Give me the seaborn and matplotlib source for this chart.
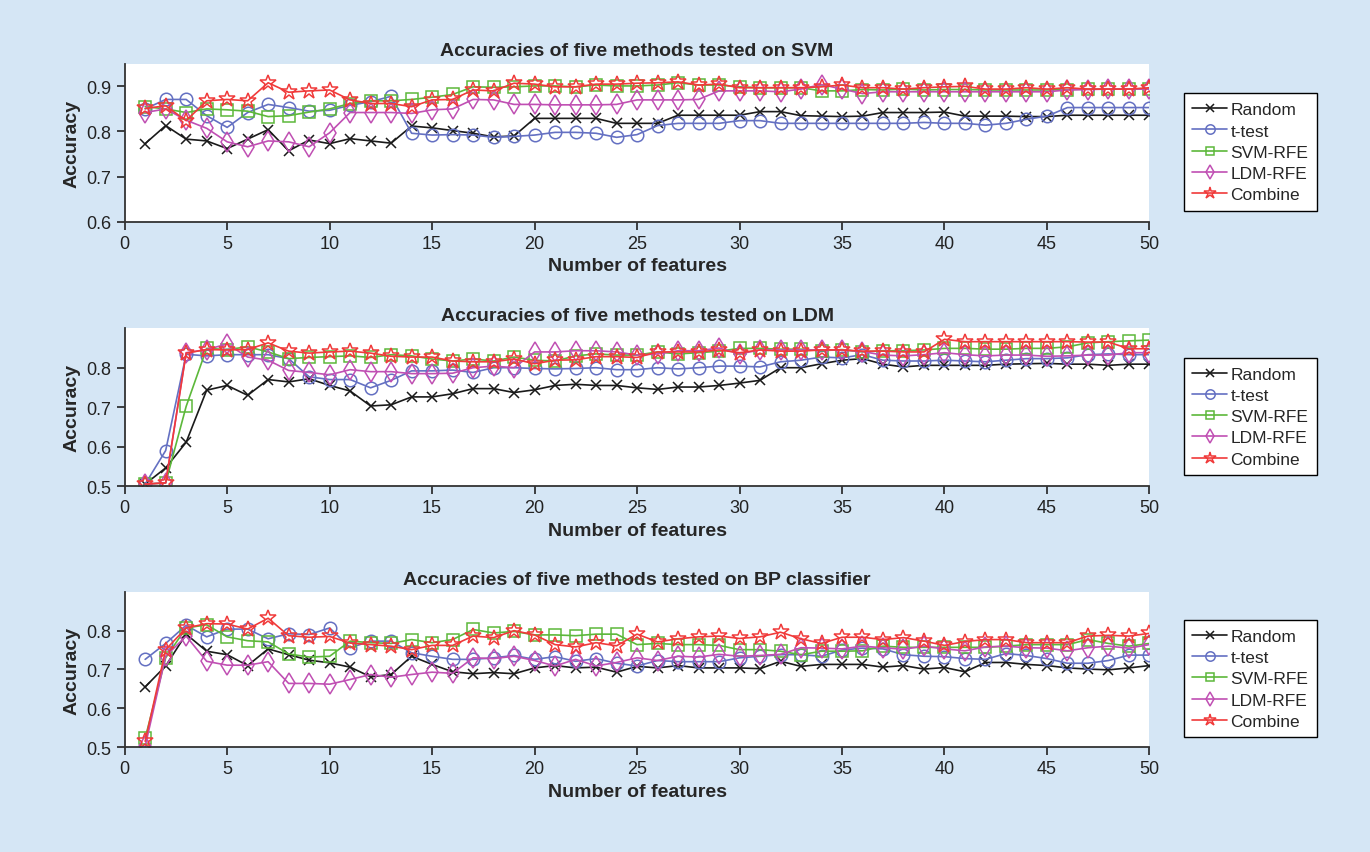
import matplotlib
matplotlib.use("Agg")
import matplotlib.pyplot as plt
import seaborn as sns

# feature counts on the x axis
features = list(range(1, 51))
methods = ["Random", "t-test", "SVM-RFE", "LDM-RFE", "Combine"]

# --- tested on SVM ---
rand1 = [0.773, 0.813, 0.783, 0.779, 0.762, 0.783, 0.804, 0.757, 0.781, 0.773,
         0.784, 0.779, 0.774, 0.812, 0.808, 0.802, 0.796, 0.788, 0.790, 0.829,
         0.829, 0.829, 0.829, 0.818, 0.818, 0.818, 0.836, 0.836, 0.836, 0.836,
         0.844, 0.844, 0.835, 0.834, 0.833, 0.834, 0.842, 0.842, 0.842, 0.843,
         0.834, 0.834, 0.834, 0.833, 0.833, 0.836, 0.836, 0.836, 0.836, 0.836]
ttest1 = [0.850, 0.871, 0.871, 0.835, 0.809, 0.842, 0.860, 0.853, 0.845, 0.847,
          0.858, 0.866, 0.878, 0.796, 0.792, 0.793, 0.792, 0.787, 0.789, 0.792,
          0.798, 0.798, 0.796, 0.787, 0.793, 0.813, 0.818, 0.818, 0.818, 0.824,
          0.824, 0.818, 0.818, 0.818, 0.818, 0.818, 0.818, 0.818, 0.820, 0.818,
          0.818, 0.814, 0.818, 0.827, 0.834, 0.853, 0.853, 0.853, 0.853, 0.853]
svm1 = [0.855, 0.850, 0.842, 0.850, 0.848, 0.845, 0.833, 0.835, 0.843, 0.850,
        0.862, 0.868, 0.868, 0.871, 0.876, 0.882, 0.899, 0.898, 0.899, 0.901,
        0.901, 0.899, 0.903, 0.901, 0.901, 0.903, 0.908, 0.903, 0.903, 0.899,
        0.897, 0.897, 0.897, 0.890, 0.890, 0.893, 0.892, 0.894, 0.892, 0.893,
        0.893, 0.892, 0.892, 0.892, 0.892, 0.893, 0.894, 0.894, 0.894, 0.894]
ldm1 = [0.842, 0.850, 0.825, 0.807, 0.777, 0.766, 0.779, 0.777, 0.766, 0.797,
        0.842, 0.842, 0.842, 0.840, 0.848, 0.850, 0.871, 0.870, 0.860, 0.860,
        0.859, 0.859, 0.859, 0.860, 0.870, 0.870, 0.870, 0.871, 0.890, 0.890,
        0.890, 0.888, 0.894, 0.904, 0.894, 0.884, 0.888, 0.888, 0.888, 0.888,
        0.888, 0.888, 0.888, 0.888, 0.888, 0.892, 0.893, 0.894, 0.894, 0.894]
comb1 = [0.851, 0.857, 0.824, 0.868, 0.871, 0.868, 0.908, 0.887, 0.890, 0.892,
         0.870, 0.862, 0.862, 0.855, 0.870, 0.871, 0.892, 0.890, 0.907, 0.905,
         0.899, 0.899, 0.905, 0.905, 0.907, 0.908, 0.910, 0.903, 0.905, 0.897,
         0.897, 0.897, 0.897, 0.899, 0.903, 0.897, 0.897, 0.894, 0.897, 0.899,
         0.900, 0.894, 0.894, 0.897, 0.894, 0.897, 0.894, 0.894, 0.894, 0.897]

# --- tested on LDM ---
rand2 = [0.505, 0.546, 0.611, 0.743, 0.755, 0.730, 0.770, 0.764, 0.772, 0.755,
         0.741, 0.703, 0.706, 0.726, 0.726, 0.734, 0.747, 0.747, 0.737, 0.744,
         0.755, 0.758, 0.755, 0.755, 0.749, 0.745, 0.751, 0.751, 0.755, 0.761,
         0.768, 0.800, 0.800, 0.810, 0.819, 0.823, 0.809, 0.802, 0.806, 0.806,
         0.806, 0.806, 0.809, 0.810, 0.811, 0.809, 0.809, 0.806, 0.809, 0.809]
ttest2 = [0.505, 0.590, 0.834, 0.830, 0.833, 0.833, 0.833, 0.823, 0.777, 0.770,
          0.770, 0.749, 0.768, 0.792, 0.792, 0.794, 0.788, 0.800, 0.800, 0.798,
          0.797, 0.798, 0.800, 0.795, 0.795, 0.800, 0.797, 0.800, 0.804, 0.804,
          0.802, 0.815, 0.819, 0.827, 0.825, 0.833, 0.819, 0.817, 0.817, 0.819,
          0.817, 0.815, 0.819, 0.823, 0.823, 0.825, 0.833, 0.835, 0.833, 0.833]
svm2 = [0.505, 0.508, 0.702, 0.849, 0.846, 0.853, 0.840, 0.823, 0.826, 0.828,
        0.830, 0.826, 0.833, 0.830, 0.822, 0.817, 0.822, 0.817, 0.827, 0.819,
        0.817, 0.830, 0.835, 0.832, 0.832, 0.840, 0.835, 0.838, 0.842, 0.849,
        0.849, 0.847, 0.847, 0.843, 0.846, 0.840, 0.843, 0.843, 0.845, 0.849,
        0.849, 0.847, 0.847, 0.849, 0.849, 0.853, 0.863, 0.866, 0.868, 0.870]
ldm2 = [0.505, 0.508, 0.838, 0.846, 0.860, 0.827, 0.819, 0.793, 0.788, 0.782,
        0.795, 0.790, 0.790, 0.785, 0.785, 0.786, 0.800, 0.804, 0.800, 0.840,
        0.840, 0.843, 0.843, 0.840, 0.832, 0.835, 0.843, 0.843, 0.850, 0.835,
        0.845, 0.845, 0.845, 0.845, 0.845, 0.841, 0.832, 0.830, 0.833, 0.838,
        0.833, 0.830, 0.832, 0.832, 0.829, 0.830, 0.832, 0.832, 0.838, 0.838]
comb2 = [0.505, 0.508, 0.837, 0.846, 0.845, 0.846, 0.863, 0.842, 0.837, 0.840,
         0.842, 0.837, 0.829, 0.827, 0.827, 0.817, 0.815, 0.815, 0.822, 0.810,
         0.819, 0.820, 0.828, 0.828, 0.826, 0.840, 0.840, 0.840, 0.845, 0.838,
         0.845, 0.842, 0.842, 0.845, 0.845, 0.842, 0.842, 0.840, 0.840, 0.872,
         0.866, 0.866, 0.866, 0.866, 0.866, 0.866, 0.865, 0.865, 0.848, 0.848]

# --- tested on BP classifier ---
rand3 = [0.655, 0.709, 0.791, 0.747, 0.738, 0.710, 0.753, 0.738, 0.724, 0.717,
         0.706, 0.681, 0.687, 0.734, 0.713, 0.694, 0.689, 0.692, 0.689, 0.704,
         0.710, 0.704, 0.706, 0.693, 0.708, 0.704, 0.710, 0.704, 0.704, 0.704,
         0.702, 0.721, 0.708, 0.713, 0.713, 0.713, 0.706, 0.710, 0.701, 0.705,
         0.694, 0.718, 0.718, 0.713, 0.710, 0.704, 0.701, 0.699, 0.704, 0.710]
ttest3 = [0.726, 0.767, 0.814, 0.784, 0.804, 0.804, 0.779, 0.792, 0.790, 0.807,
          0.756, 0.773, 0.773, 0.743, 0.734, 0.726, 0.726, 0.730, 0.736, 0.726,
          0.733, 0.721, 0.728, 0.716, 0.709, 0.723, 0.720, 0.720, 0.720, 0.730,
          0.734, 0.738, 0.738, 0.734, 0.750, 0.755, 0.753, 0.738, 0.734, 0.733,
          0.728, 0.726, 0.741, 0.736, 0.728, 0.716, 0.716, 0.723, 0.737, 0.737]
svm3 = [0.523, 0.730, 0.807, 0.815, 0.784, 0.774, 0.771, 0.740, 0.732, 0.734,
        0.773, 0.769, 0.767, 0.777, 0.769, 0.777, 0.803, 0.794, 0.798, 0.789,
        0.789, 0.787, 0.791, 0.791, 0.764, 0.767, 0.764, 0.764, 0.762, 0.751,
        0.751, 0.747, 0.738, 0.747, 0.747, 0.748, 0.760, 0.757, 0.757, 0.757,
        0.757, 0.757, 0.760, 0.764, 0.764, 0.764, 0.777, 0.767, 0.760, 0.767]
ldm3 = [0.502, 0.734, 0.786, 0.721, 0.711, 0.711, 0.720, 0.664, 0.664, 0.662,
        0.674, 0.687, 0.680, 0.687, 0.693, 0.690, 0.730, 0.728, 0.734, 0.723,
        0.709, 0.726, 0.709, 0.718, 0.730, 0.723, 0.734, 0.732, 0.739, 0.734,
        0.736, 0.739, 0.756, 0.755, 0.753, 0.760, 0.756, 0.752, 0.760, 0.753,
        0.748, 0.758, 0.760, 0.756, 0.755, 0.748, 0.756, 0.760, 0.755, 0.764]
comb3 = [0.515, 0.751, 0.807, 0.818, 0.817, 0.804, 0.832, 0.787, 0.783, 0.785,
         0.768, 0.764, 0.760, 0.751, 0.762, 0.762, 0.786, 0.782, 0.800, 0.789,
         0.764, 0.758, 0.769, 0.761, 0.791, 0.771, 0.779, 0.784, 0.786, 0.780,
         0.784, 0.796, 0.779, 0.767, 0.783, 0.783, 0.777, 0.782, 0.773, 0.762,
         0.772, 0.777, 0.777, 0.769, 0.769, 0.769, 0.786, 0.788, 0.786, 0.793]

titles = ["Accuracies of five methods tested on SVM",
          "Accuracies of five methods tested on LDM",
          "Accuracies of five methods tested on BP classifier"]
panels = [[rand1, ttest1, svm1, ldm1, comb1],
          [rand2, ttest2, svm2, ldm2, comb2],
          [rand3, ttest3, svm3, ldm3, comb3]]
ylims = [(0.6, 0.95), (0.5, 0.9), (0.5, 0.9)]
yticks = [[0.6, 0.7, 0.8, 0.9], [0.5, 0.6, 0.7, 0.8], [0.5, 0.6, 0.7, 0.8]]

colors = ["#1a1a1a", "#6470c2", "#5cb83a", "#c04fb3", "#f03a3a"]
markers = ["x", "o", "s", "d", "*"]
msizes = [7, 9, 8.5, 10, 12]

sns.set_style("ticks")
plt.rcParams["font.family"] = ["Liberation Sans", "DejaVu Sans"]

fig = plt.figure(figsize=(13.7, 8.53), dpi=100)
fig.patch.set_facecolor("#d5e6f5")

# axes rectangles (left, bottom, width, height) in figure fraction
rects = [(0.091, 0.739, 0.748, 0.185),
         (0.091, 0.429, 0.748, 0.185),
         (0.091, 0.123, 0.748, 0.182)]

for rect, title, series, ylim, yt in zip(rects, titles, panels, ylims, yticks):
    ax = fig.add_axes(rect)
    ax.set_facecolor("white")
    for name, vals, c, m, ms in zip(methods, series, colors, markers, msizes):
        sns.lineplot(x=features, y=vals, ax=ax, color=c, marker=m,
                     markersize=ms, markerfacecolor="none",
                     markeredgecolor=c, markeredgewidth=1.1,
                     linewidth=1.2, label=name)
    ax.set_xlim(0, 50)
    ax.set_ylim(*ylim)
    ax.set_xticks(range(0, 51, 5))
    ax.set_yticks(yt)
    ax.tick_params(direction="out", length=6, width=1.2, labelsize=13,
                   colors="#222222")
    sns.despine(ax=ax)
    for s in ["left", "bottom"]:
        ax.spines[s].set_linewidth(1.3)
        ax.spines[s].set_color("#333333")
    ax.set_title(title, fontsize=14, fontweight="bold", pad=6)
    ax.set_xlabel("Number of features", fontsize=14, fontweight="bold")
    ax.set_ylabel("Accuracy", fontsize=14, fontweight="bold")
    leg = ax.legend(loc="center left", bbox_to_anchor=(1.025, 0.44),
                    fontsize=12.5, frameon=True, fancybox=False,
                    handlelength=2.0, labelspacing=0.35, borderpad=0.5,
                    handletextpad=0.2, markerscale=0.75)
    leg.get_frame().set_edgecolor("black")
    leg.get_frame().set_linewidth(1.0)
    leg.get_frame().set_facecolor("white")
    leg.get_frame().set_alpha(1.0)

fig.savefig("out.png", dpi=100, facecolor=fig.get_facecolor())
